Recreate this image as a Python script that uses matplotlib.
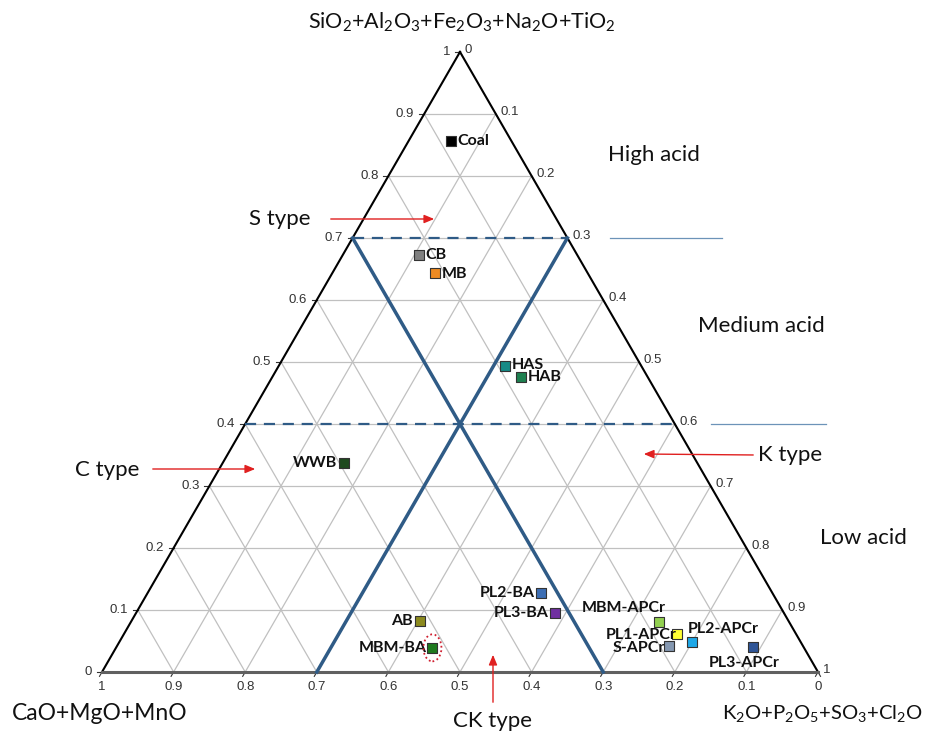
import numpy as np
import matplotlib
matplotlib.use("Agg")
import matplotlib.pyplot as plt
from matplotlib.patches import Ellipse

# ---------------- data (fractions: C = CaO+MgO+MnO, S = SiO2+..., K = K2O+...) ----
names = ["Coal", "CB", "MB", "HAS", "HAB", "WWB", "PL2-BA", "PL3-BA", "AB", "MBM-BA",
         "MBM-APCr", "PL1-APCr", "S-APCr", "PL2-APCr", "PL3-APCr"]
S_vals = [0.856, 0.673, 0.644, 0.494, 0.476, 0.337, 0.127, 0.095, 0.082, 0.039,
          0.081, 0.061, 0.042, 0.048, 0.040]
K_vals = [0.059, 0.106, 0.143, 0.316, 0.347, 0.169, 0.549, 0.585, 0.403, 0.442,
          0.738, 0.772, 0.771, 0.800, 0.889]
colors = ["#000000", "#808080", "#ED8A22", "#168A86", "#1E8050", "#1E4A1E", "#3C6EB4",
          "#7030A0", "#8C8A1E", "#1E7A1E", "#92D050", "#FFFF33", "#8497B0", "#1EA8E8",
          "#2F5597"]
tick_vals = [0, 0.1, 0.2, 0.3, 0.4, 0.5, 0.6, 0.7, 0.8, 0.9, 1]
tick_labels = ["0", "0.1", "0.2", "0.3", "0.4", "0.5", "0.6", "0.7", "0.8", "0.9", "1"]

plt.rcParams['mathtext.fontset'] = 'custom'
plt.rcParams['mathtext.rm'] = 'Lato'
plt.rcParams['mathtext.default'] = 'regular'

H = np.sqrt(3) / 2


def tern(s, k):
    s = np.asarray(s, float)
    k = np.asarray(k, float)
    return k + s / 2, s * H


fig = plt.figure(figsize=(9.28, 7.36), dpi=100)
ax = fig.add_axes([0, 0, 1, 1])
sc = 716.0
ax.set_xlim(-102 / sc, (928 - 102) / sc)
ax.set_ylim(-64 / sc, 672 / sc)
ax.axis('off')

grid_c = "#C0C0C0"
# grid lines
for v in tick_vals[1:-1]:
    # constant S
    x, y = tern([v, v], [0, 1 - v])
    ax.plot(x, y, color=grid_c, lw=0.9, zorder=1)
    # constant K
    x, y = tern([0, 1 - v], [v, v])
    ax.plot(x, y, color=grid_c, lw=0.9, zorder=1)
    # constant C
    x, y = tern([0, 1 - v], [1 - v, 0])
    ax.plot(x, y, color=grid_c, lw=0.9, zorder=1)

# triangle edges
x, y = tern([0, 1], [0, 0])
ax.plot(x, y, color="black", lw=1.5, zorder=3)
x, y = tern([1, 0], [0, 1])
ax.plot(x, y, color="black", lw=1.5, zorder=3)
x, y = tern([0, 0], [0, 1])
ax.plot(x, y, color="#606060", lw=2.2, zorder=3)

# ticks & labels
tf = dict(family="Liberation Sans", fontsize=9.5, color="#333333")
tl = 5 / sc
for v, lab in zip(tick_vals, tick_labels):
    # left edge: S value
    x, y = tern(v, 0)
    ax.plot([x, x - tl], [y, y], color="#333333", lw=0.8)
    ax.text(x - 10 / sc, y, lab, ha="right", va="center", **tf)
    # right edge: K value
    x, y = tern(1 - v, v)
    ax.plot([x, x + tl * 0.5], [y, y - tl * H], color="#333333", lw=0.8)
    ax.text(x + 5 / sc, y + 2 / sc, lab, ha="left", va="center", **tf)
    # bottom: C value
    x, y = tern(0, 1 - v)
    ax.plot([x, x - tl * 0.5], [y, y - tl * H], color="#333333", lw=0.8)
    ax.text(x, y - 9 / sc, lab, ha="center", va="top", **tf)

# region boundaries
blue = "#2F5B86"
x, y = tern([0.7, 0], [0, 0.7])  # C = 0.3
ax.plot(x, y, color=blue, lw=2.5, zorder=4)
x, y = tern([0.7, 0], [0.3, 0.3])  # K = 0.3
ax.plot(x, y, color=blue, lw=2.5, zorder=4)
for s in [0.7, 0.4]:
    x, y = tern([s, s], [0, 1 - s])
    ax.plot(x, y, color=blue, lw=1.6, ls=(0, (5, 3.5)), zorder=4)

light = "#6C93B8"
ax.plot(np.array([610, 722]) / sc - 102 / sc, [0.7 * H, 0.7 * H], color=light, lw=0.9)
ax.plot(np.array([711, 826]) / sc - 102 / sc, [0.4 * H, 0.4 * H], color=light, lw=0.9)

# points
px, py = tern(S_vals, K_vals)
for xi, yi, c in zip(px, py, colors):
    ax.scatter([xi], [yi], s=42, marker="s", facecolor=c, edgecolor="#333333",
               linewidth=0.8, zorder=6)

lf = dict(family="Lato", fontsize=11.5, fontweight="bold", color="#111111", zorder=7)
offsets = {
    "Coal": (7, 0, "left"), "CB": (7, 0, "left"), "MB": (7, -1, "left"),
    "HAS": (7, 1, "left"), "HAB": (7, 0, "left"), "WWB": (-7, 0, "right"),
    "PL2-BA": (-6, 0, "right"), "PL3-BA": (-6, 0, "right"), "AB": (-7, 0, "right"),
    "MBM-BA": (-6, 0, "right"), "MBM-APCr": (6, 14, "right"), "PL1-APCr": (0, -1, "right"),
    "S-APCr": (-4, -2, "right"), "PL2-APCr": (-4, 13, "left"), "PL3-APCr": (-44, -16, "left"),
}
for n, xi, yi in zip(names, px, py):
    dx, dy, ha = offsets[n]
    ax.text(xi + dx / sc, yi + dy / sc, n, ha=ha, va="center", **lf)

# red dotted ellipse around MBM-BA
i = names.index("MBM-BA")
ax.add_patch(Ellipse((px[i], py[i]), 18 / sc, 27 / sc, fill=False, edgecolor="#D02030",
                     lw=1.3, ls=(0, (1, 1.5)), zorder=7))


def P(xp, yp):
    return (xp - 102) / sc, (672 - yp) / sc


# axis titles
title_f = dict(family="Lato", fontsize=15.5, color="#111111")
ax.text(*P(462, 22), r"SiO$_2$+Al$_2$O$_3$+Fe$_2$O$_3$+Na$_2$O+TiO$_2$",
        ha="center", va="center", **title_f)
ax.text(*P(100, 714), "CaO+MgO+MnO", ha="center", va="center",
        **dict(title_f, fontsize=16.5))
ax.text(*P(922, 714), r"K$_2$O+P$_2$O$_5$+SO$_3$+Cl$_2$O",
        ha="right", va="center", **dict(title_f, fontsize=14.6))

# region labels
rf = dict(family="Lato", fontsize=16, color="#111111")
ax.text(*P(608, 155), "High acid", ha="left", va="center", **rf)
ax.text(*P(698, 326), "Medium acid", ha="left", va="center", **rf)
ax.text(*P(820, 538), "Low acid", ha="left", va="center", **rf)
ax.text(*P(249, 219), "S type", ha="left", va="center", **rf)
ax.text(*P(75, 470), "C type", ha="left", va="center", **rf)
ax.text(*P(758, 455), "K type", ha="left", va="center", **rf)
ax.text(*P(493, 721), "CK type", ha="center", va="center", **rf)

red = "#E02020"
ap = dict(arrowstyle="-|>,head_length=0.6,head_width=0.25", color=red, lw=1.0)
ax.annotate("", xy=P(437, 219), xytext=P(328, 219), arrowprops=ap)
ax.annotate("", xy=P(258, 469), xytext=P(150, 469), arrowprops=ap)
ax.annotate("", xy=P(641, 454), xytext=P(756, 455), arrowprops=ap)
ax.annotate("", xy=P(493, 652), xytext=P(493, 705), arrowprops=ap)

fig.savefig("out.png", dpi=100, facecolor="white")
